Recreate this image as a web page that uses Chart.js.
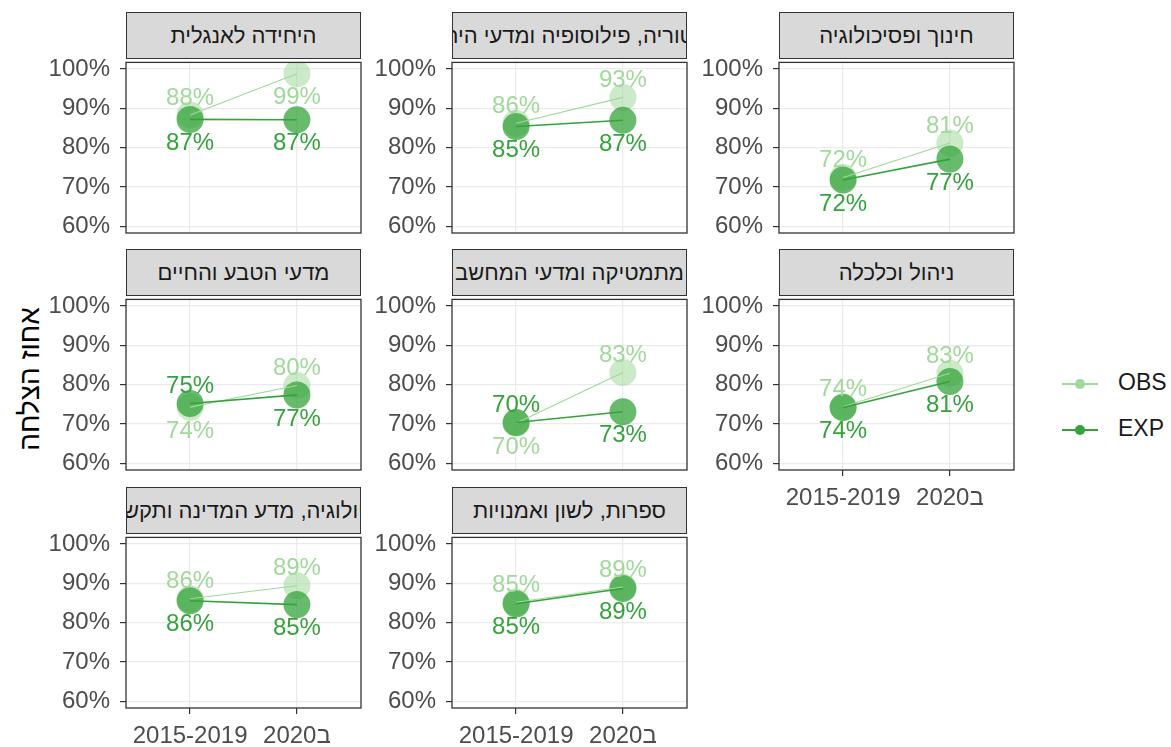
<!DOCTYPE html>
<html>
<head>
<meta charset="utf-8">
<script src="https://cdn.jsdelivr.net/npm/chart.js@4.4.0/dist/chart.umd.min.js"></script>
<style>
body { margin: 0; background: #fff; width: 1171px; height: 747px; position: relative; overflow: hidden; font-family: "Liberation Sans", Arial, sans-serif; }
.strip { position: absolute; height: 47px; background: #d9d9d9; border: 1.3px solid #333; box-sizing: border-box; display: flex; justify-content: center; align-items: center; overflow: hidden; direction: rtl; white-space: nowrap; font-size: 22px; color: #1a1a1a; }
.panel { position: absolute; }
.ytitle { position: absolute; left: 30px; top: 379px; transform: translate(-50%, -50%) rotate(-90deg); direction: rtl; white-space: nowrap; font-size: 28px; color: #000; }
.legend { position: absolute; left: 1062px; font-size: 23px; color: #1a1a1a; }
.key { position: absolute; left: 0; width: 36px; height: 1.5px; }
.key span { position: absolute; left: 13px; top: -4px; width: 9.5px; height: 9.5px; border-radius: 50%; }
.legend b { position: absolute; left: 56px; top: -14px; font-weight: normal; }
</style>
</head>
<body>
<div class="ytitle">אחוז הצלחה</div>
<div class="legend" style="top:383px"><div class="key" style="background:#a1d99b"><span style="background:#a1d99b"></span></div><b>OBS</b></div>
<div class="legend" style="top:429px"><div class="key" style="background:#35a33c"><span style="background:#35a33c"></span></div><b>EXP</b></div>

<script>
// Data
const periods = ['2015-2019', 'ב2020'];
const faculties = [
  'היחידה לאנגלית',
  'היסטוריה, פילוסופיה ומדעי היהדות',
  'חינוך ופסיכולוגיה',
  'מדעי הטבע והחיים',
  'מתמטיקה ומדעי המחשב',
  'ניהול וכלכלה',
  'סוציולוגיה, מדע המדינה ותקשורת',
  'ספרות, לשון ואמנויות'
];
const obsValues = [[88.3, 98.8], [86.2, 92.8], [72.4, 81.2], [74.3, 79.8], [70.2, 83.1], [74.4, 82.9], [86.1, 89.4], [85.2, 89.1]];
const expValues = [[87.2, 87.1], [85.4, 87.0], [71.8, 77.1], [75.2, 77.4], [70.4, 73.1], [74.2, 80.8], [85.6, 84.6], [84.8, 88.7]];
const yTicks = [60, 70, 80, 90, 100];

// Layout of the facet grid
const colLeft = [126, 452, 779];
const plotTop = [58, 295, 533];
const panelW = 235, panelH = 175;
const stripH = 47;
const axisW = 100, padTop = 20, padRight = 20, axisH = 50;

const obsColor = '#a1d99b';
const expColor = '#35a33c';
const tickFont = { family: '"Liberation Sans", Arial, sans-serif', size: 24 };

// minor ticks half way between the labelled ones
const allTicks = [];
yTicks.forEach((v, k) => {
  allTicks.push(v);
  if (k < yTicks.length - 1) allTicks.push((v + yTicks[k + 1]) / 2);
});

const framePlugin = {
  id: 'frame',
  afterDatasetsDraw(chart) {
    const { ctx, chartArea: a } = chart;
    ctx.save();
    ctx.strokeStyle = '#333';
    ctx.lineWidth = 1.3;
    ctx.strokeRect(a.left, a.top, a.right - a.left, a.bottom - a.top);
    ctx.restore();
  }
};

function labelPlugin(i) {
  return {
    id: 'pointLabels',
    afterDraw(chart) {
      const { ctx, chartArea, scales } = chart;
      ctx.save();
      ctx.font = '24px "Liberation Sans", Arial, sans-serif';
      ctx.textAlign = 'center';
      ctx.textBaseline = 'middle';
      periods.forEach((p, k) => {
        const obs = obsValues[i][k], exp = expValues[i][k];
        const x = scales.x.getPixelForValue(k);
        const yo = scales.y.getPixelForValue(obs);
        const ye = scales.y.getPixelForValue(exp);
        // the higher series gets its label above, the other one below
        const obsUp = obs >= exp;
        let obsY = obsUp ? yo - 17 : yo + 24;
        if (obsUp && obsY - 8 < chartArea.top) obsY = yo + 24;
        const expY = obsUp ? ye + 24 : ye - 17;
        ctx.fillStyle = obsColor;
        ctx.fillText(Math.round(obs) + '%', x, obsY);
        ctx.fillStyle = expColor;
        ctx.fillText(Math.round(exp) + '%', x, expY);
      });
      ctx.restore();
    }
  };
}

function makePanel(i) {
  const row = Math.floor(i / 3), col = i % 3;
  const showX = (i >= 5);

  const strip = document.createElement('div');
  strip.className = 'strip';
  strip.style.left = colLeft[col] + 'px';
  strip.style.top = (plotTop[row] - stripH + 1) + 'px';
  strip.style.width = panelW + 'px';
  strip.textContent = faculties[i];
  document.body.appendChild(strip);

  const canvas = document.createElement('canvas');
  canvas.className = 'panel';
  canvas.width = axisW + panelW + padRight;
  canvas.height = padTop + panelH + axisH;
  canvas.style.left = (colLeft[col] - axisW) + 'px';
  canvas.style.top = (plotTop[row] - padTop) + 'px';
  document.body.appendChild(canvas);

  const pts = vals => vals.map((v, k) => ({ x: k, y: v }));

  new Chart(canvas, {
    type: 'line',
    data: {
      datasets: [
        { label: 'EXP', data: pts(expValues[i]), borderColor: expColor, borderWidth: 1.6, pointRadius: 0 },
        { label: 'OBS', data: pts(obsValues[i]), borderColor: obsColor, borderWidth: 1.1, pointRadius: 0 },
        { label: 'EXP pts', data: pts(expValues[i]), showLine: false, pointRadius: 13.5, pointBorderWidth: 0, pointBackgroundColor: 'rgba(53,163,60,0.75)' },
        { label: 'OBS pts', data: pts(obsValues[i]), showLine: false, pointRadius: 13.5, pointBorderWidth: 0, pointBackgroundColor: 'rgba(161,217,155,0.55)' }
      ]
    },
    options: {
      responsive: false,
      animation: false,
      layout: { padding: { top: padTop, right: padRight, left: 0, bottom: 0 } },
      plugins: { legend: { display: false }, tooltip: { enabled: false } },
      scales: {
        x: {
          type: 'linear',
          min: -0.6,
          max: 1.6,
          afterBuildTicks: s => { s.ticks = periods.map((p, k) => ({ value: k })); },
          afterFit: s => { s.height = axisH; },
          ticks: { display: showX, callback: v => periods[v], font: tickFont, color: '#4d4d4d', padding: 8, maxRotation: 0 },
          grid: { color: '#ebebeb', lineWidth: 1.2, drawTicks: showX, tickLength: 6, tickColor: '#333' },
          border: { display: false }
        },
        y: {
          min: 58.3,
          max: 101.7,
          afterBuildTicks: s => { s.ticks = allTicks.map(v => ({ value: v })); },
          afterFit: s => { s.width = axisW; },
          ticks: { callback: v => (yTicks.includes(v) ? v + '%' : ''), font: tickFont, color: '#4d4d4d', padding: 10 },
          grid: {
            color: c => (yTicks.includes(c.tick.value) ? '#ebebeb' : '#f3f3f3'),
            lineWidth: c => (yTicks.includes(c.tick.value) ? 1.2 : 0.8),
            tickColor: c => (yTicks.includes(c.tick.value) ? '#333' : 'rgba(0,0,0,0)'),
            tickLength: 6
          },
          border: { display: false }
        }
      }
    },
    plugins: [framePlugin, labelPlugin(i)]
  });
}

faculties.forEach((f, i) => makePanel(i));
</script>
</body>
</html>
